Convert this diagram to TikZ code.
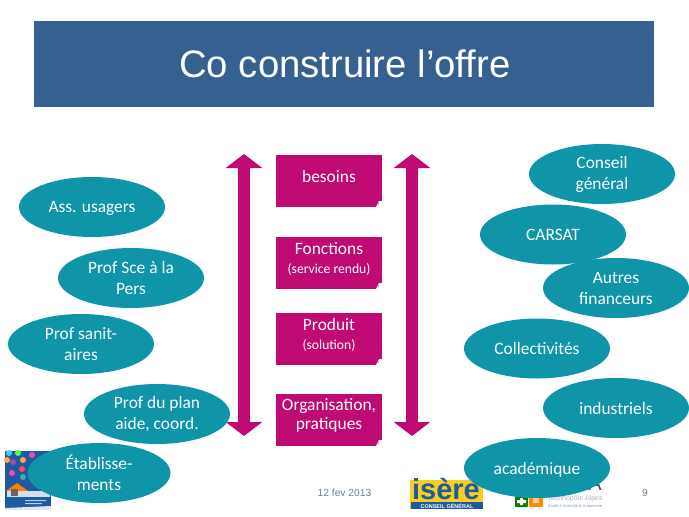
\documentclass[tikz,border=0pt]{standalone}
\usepackage{fontspec}
\setmainfont{Carlito}
\newfontfamily\arialfont{Liberation Sans}
\usetikzlibrary{arrows.meta,shapes.geometric}

\definecolor{bandblue}{HTML}{35608F}
\definecolor{ovalteal}{HTML}{0F94A8}
\definecolor{boxpink}{HTML}{BF0A74}
\definecolor{footgrey}{HTML}{6D7F94}
\definecolor{isereblue}{HTML}{1F5AA0}
\definecolor{isereyellow}{HTML}{F5D020}

\newcommand{\subline}[1]{{\fontsize{13.6}{16}\selectfont #1}}

\tikzset{
    actor/.style={ellipse, fill=ovalteal, text=white, minimum width=146pt, minimum height=60pt,
        inner sep=0pt, align=center, font=\fontsize{17.4}{21}\selectfont},
    oneline/.style={actor, align=none, text depth=0pt},
    sheet/.style={rectangle, fill=boxpink, minimum width=106pt, minimum height=52pt, inner sep=0pt,
        path picture={
            \fill[white] ([xshift=-6pt]path picture bounding box.south east)
                -- ([xshift=-3pt,yshift=6pt]path picture bounding box.south east)
                -- ([yshift=6pt]path picture bounding box.south east)
                -- (path picture bounding box.south east) -- cycle;
            \fill[black!60] ([xshift=-3.5pt,yshift=3pt]path picture bounding box.south east) circle (0.6pt);
        }},
    sheettext/.style={text=white, inner sep=0pt, align=center, yshift=4.5pt,
        font=\fontsize{17.4}{19}\selectfont},
    axis/.style={{Triangle[width=36pt,length=14pt]}-{Triangle[width=36pt,length=14pt]},
        line width=12pt, draw=boxpink},
    foot/.style={text=footgrey, font=\arialfont\fontsize{10.3}{12}\selectfont, inner sep=0pt},
}

\begin{document}
\begin{tikzpicture}[x=1pt, y=-1pt]
    \useasboundingbox (0,0) rectangle (689,517);

    % title
    \fill[bandblue] (34,21) rectangle (654,107);
    \node[text=white, font=\arialfont\fontsize{38.3}{40}\selectfont] (title) at (345,64) {Co construire l’offre};

    % logos under the ovals
    \fill[isereyellow] (410,480) rectangle (483,509);
    \fill[isereblue] (411,502) rectangle (483,509);
    \node[text=isereblue, font=\arialfont\bfseries\fontsize{29}{29}\selectfont, inner sep=0pt, anchor=base] (isere) at (446,499) {isère};
    \node[text=white, font=\arialfont\bfseries\fontsize{5.5}{6}\selectfont, inner sep=0pt] (cg) at (447,506) {CONSEIL GÉNÉRAL};

    \fill[green!50!black, rounded corners=1pt] (515,496) rectangle (528,507);
    \fill[white] (520,498) rectangle (523,505) (517,500) rectangle (526,503);
    \fill[orange!90!yellow, rounded corners=1pt] (529,496) rectangle (543,507);
    \fill[orange!40!white] (533,498) rectangle (539,503);
    \node[text=black!70, font=\arialfont\fontsize{20}{20}\selectfont, inner sep=0pt, anchor=south east] (oda) at (602,490.5) {DA};
    \node[text=footgrey!60, font=\arialfont\fontsize{7}{8}\selectfont, inner sep=0pt] (techno) at (575,499) {Technopôle Alpes};
    \node[text=footgrey!80, font=\arialfont\fontsize{4}{5}\selectfont, inner sep=0pt] (sante) at (575,506.5) {Santé à Domicile \& Autonomie};

    % thumbnail
    \fill[isereblue] (5,451) rectangle (51,510);
    \fill[white!85!isereblue] (5,508) -- (51,506) -- (51,510) -- (5,510) -- cycle;
    \foreach \px/\py/\tint in {9/453/cyan, 18/453/green, 32/455/magenta, 7/460/orange, 13/462/violet,
        23/460/orange, 12/473/magenta, 22/469/red, 23/477/teal}
        \fill[\tint!70!white] (\px,\py) circle (3pt);
    \fill[orange] (6,491) -- (17,483) -- (28,491) -- cycle;
    \fill[white!80!isereblue] (7,491) rectangle (50,497);
    \fill[black!60] (11,489) rectangle (18,496);
    \fill[white!70!isereblue] (25,500) rectangle (46,501) (25,503) rectangle (42,504);

    % footer
    \node[foot] (date) at (344.5,493) {12 fev 2013};
    \node[foot] (page) at (645,493) {9};

    % centre column
    \node[sheet, label={[sheettext]center:besoins}] (besoins) at (329,181) {};
    \node[sheet, label={[sheettext]center:{Fonctions\\\subline{(service rendu)}}}] (fonctions) at (329,263) {};
    \node[sheet, label={[sheettext]center:{Produit\\\subline{(solution)}}}] (produit) at (329,339) {};
    \node[sheet, label={[sheettext]center:{Organisation,\\pratiques}}] (organisation) at (329,420) {};

    \coordinate (lefttop) at (244,154);
    \coordinate (leftbottom) at (244,436);
    \coordinate (righttop) at (412,154);
    \coordinate (rightbottom) at (412,436);
    \draw[axis] (lefttop) -- (leftbottom);
    \draw[axis] (righttop) -- (rightbottom);

    % left ovals
    \node[oneline] (usagers) at (92,207) {Ass. usagers};
    \node[actor] (sce) at (131,278) {Prof Sce à la\\Pers};
    \node[actor] (sanit) at (81,344) {Prof sanit-\\aires};
    \node[actor] (plan) at (157,414) {Prof du plan\\aide, coord.};
    \node[actor, minimum width=143pt] (etab) at (99,473) {Établisse-\\ments};

    % right ovals
    \node[actor] (conseil) at (602,174) {Conseil\\général};
    \node[oneline] (carsat) at (553,234.5) {CARSAT};
    \node[actor] (autres) at (616,288) {Autres\\financeurs};
    \node[oneline] (collect) at (537,348.5) {Collectivités};
    \node[oneline] (indus) at (616,408) {industriels};
    \node[oneline] (acad) at (537,468) {académique};
\end{tikzpicture}
\end{document}
